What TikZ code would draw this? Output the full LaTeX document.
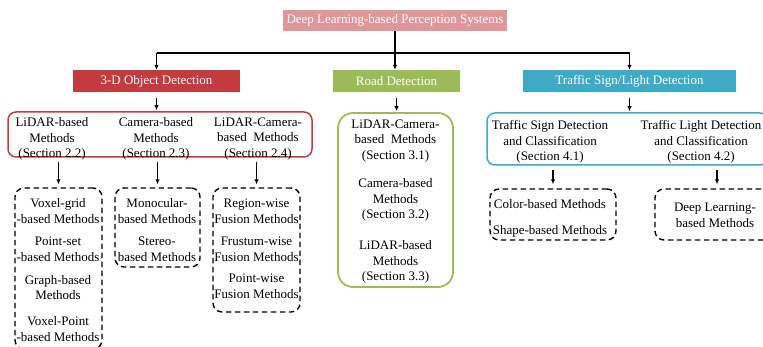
\documentclass[tikz,border=0pt]{standalone}
\usepackage{fontspec}
\setmainfont{Liberation Serif}
\usetikzlibrary{arrows.meta}
\definecolor{pinkhead}{HTML}{E0979A}
\definecolor{redhead}{HTML}{C23B3F}
\definecolor{greenhead}{HTML}{9BBB59}
\definecolor{bluehead}{HTML}{3FAAC6}
\tikzset{
  head/.style={minimum height=22, inner sep=0, text=white},
  txt/.style={align=center, inner sep=0},
  link/.style={line width=1.2, black},
  arr/.style={link, -{Latex[length=5,width=4.5]}},
  group/.style={rounded corners=8, line width=1.5, inner sep=0},
  dashgroup/.style={draw, dash pattern=on 5.5 off 3.5, rounded corners=9, line width=1.4, inner sep=0}
}
\begin{document}
\begin{tikzpicture}[x=1pt, y=-1pt, font=\fontsize{13}{15.8}\selectfont]
\useasboundingbox (0,0) rectangle (763,347);
\begin{scope}
\clip (0,0) rectangle (763,347);

% root and first level headings
\node[head, fill=pinkhead, minimum width=224, minimum height=21] (root) at (395,20.5) {Deep Learning-based Perception Systems};
\node[head, fill=redhead, minimum width=167] (obj) at (156.5,81) {3-D Object Detection};
\node[head, fill=greenhead, minimum width=127] (road) at (396.5,81) {Road Detection};
\node[head, fill=bluehead, minimum width=213] (sign) at (629.5,81) {Traffic Sign/Light Detection};

\coordinate (split) at (395,53);
\draw[arr] (root.south) -- (root.south |- road.north);
\draw[link] (obj.north |- split) -- (sign.north |- split);
\draw[arr] (obj.north |- split) -- (obj.north);
\draw[arr] (sign.north |- split) -- (sign.north);

% 3-D object detection
\node[group, draw=redhead, minimum width=304, minimum height=45] (objgroup) at (160,134.5) {};
\node[txt] (lidar) at (52,139) {LiDAR-based\\Methods\\(Section 2.2)};
\node[txt] (cam) at (156,139) {Camera-based\\Methods\\(Section 2.3)};
\node[txt] (lidcam) at (258,139) {LiDAR-Camera-\\based\ \ Methods\\(Section 2.4)};
\draw[arr, shorten <=6, shorten >=1] (obj.south) -- (obj.south |- objgroup.north);

\node[dashgroup, minimum width=87, minimum height=161] (vox) at (58.5,268.5) {};
\node[dashgroup, minimum width=85, minimum height=79] (mono) at (157.5,227.5) {};
\node[dashgroup, minimum width=87, minimum height=124] (fus) at (256.5,250) {};

\node[txt] (v1) at (58,211) {Voxel-grid\\-based Methods};
\node[txt] (v2) at (58,249) {Point-set\\-based Methods};
\node[txt] (v3) at (58,287.5) {Graph-based\\Methods};
\node[txt] (v4) at (58,329) {Voxel-Point\\-based Methods};
\node[txt] (m1) at (157,211) {Monocular-\\based Methods};
\node[txt] (m2) at (157,249) {Stereo-\\based Methods};
\node[txt] (f1) at (256.5,211) {Region-wise\\Fusion Methods};
\node[txt] (f2) at (256.5,249) {Frustum-wise\\Fusion Methods};
\node[txt] (f3) at (256.5,286) {Point-wise\\Fusion Methods};

\draw[arr, shorten <=4, shorten >=3] (objgroup.south -| vox.north) -- (vox.north);
\draw[arr, shorten <=4, shorten >=3] (objgroup.south -| mono.north) -- (mono.north);
\draw[arr, shorten <=4, shorten >=3] (objgroup.south -| fus.north) -- (fus.north);

% road detection
\node[group, draw=greenhead, rounded corners=15, line width=1.8, minimum width=115, minimum height=174] (roadgroup) at (395.5,200) {};
\node[txt] (r1) at (395.5,141) {LiDAR-Camera-\\based\ \ Methods\\(Section 3.1)};
\node[txt] (r2) at (395.5,200) {Camera-based\\Methods\\(Section 3.2)};
\node[txt] (r3) at (395.5,262) {LiDAR-based\\Methods\\(Section 3.3)};
\draw[arr, shorten <=6, shorten >=1] (road.south) -- (road.south |- roadgroup.north);

% traffic sign / light detection
\node[group, draw=bluehead, minimum width=281, minimum height=52] (signgroup) at (627.5,139) {};
\node[txt] (ts) at (550,142) {Traffic Sign Detection\\and Classification\\(Section 4.1)};
\node[txt] (tl) at (701,142) {Traffic Light Detection\\and Classification\\(Section 4.2)};
\draw[arr, shorten <=6, shorten >=1] (sign.south) -- (sign.south |- signgroup.north);

\node[dashgroup, minimum width=126, minimum height=51] (color) at (553,214.5) {};
\node[dashgroup, minimum width=124, minimum height=51] (deep) at (717,214.5) {};
\node[txt] (c1) at (550,204) {Color-based Methods};
\node[txt] (c2) at (550,231) {Shape-based Methods};
\node[txt] (d1) at (715,215) {Deep Learning-\\based Methods};

\draw[arr, shorten <=4, shorten >=4] (signgroup.south -| color.north) -- (color.north);
\draw[arr, shorten <=4, shorten >=4] (signgroup.south -| deep.north) -- (deep.north);
\end{scope}
\end{tikzpicture}
\end{document}
